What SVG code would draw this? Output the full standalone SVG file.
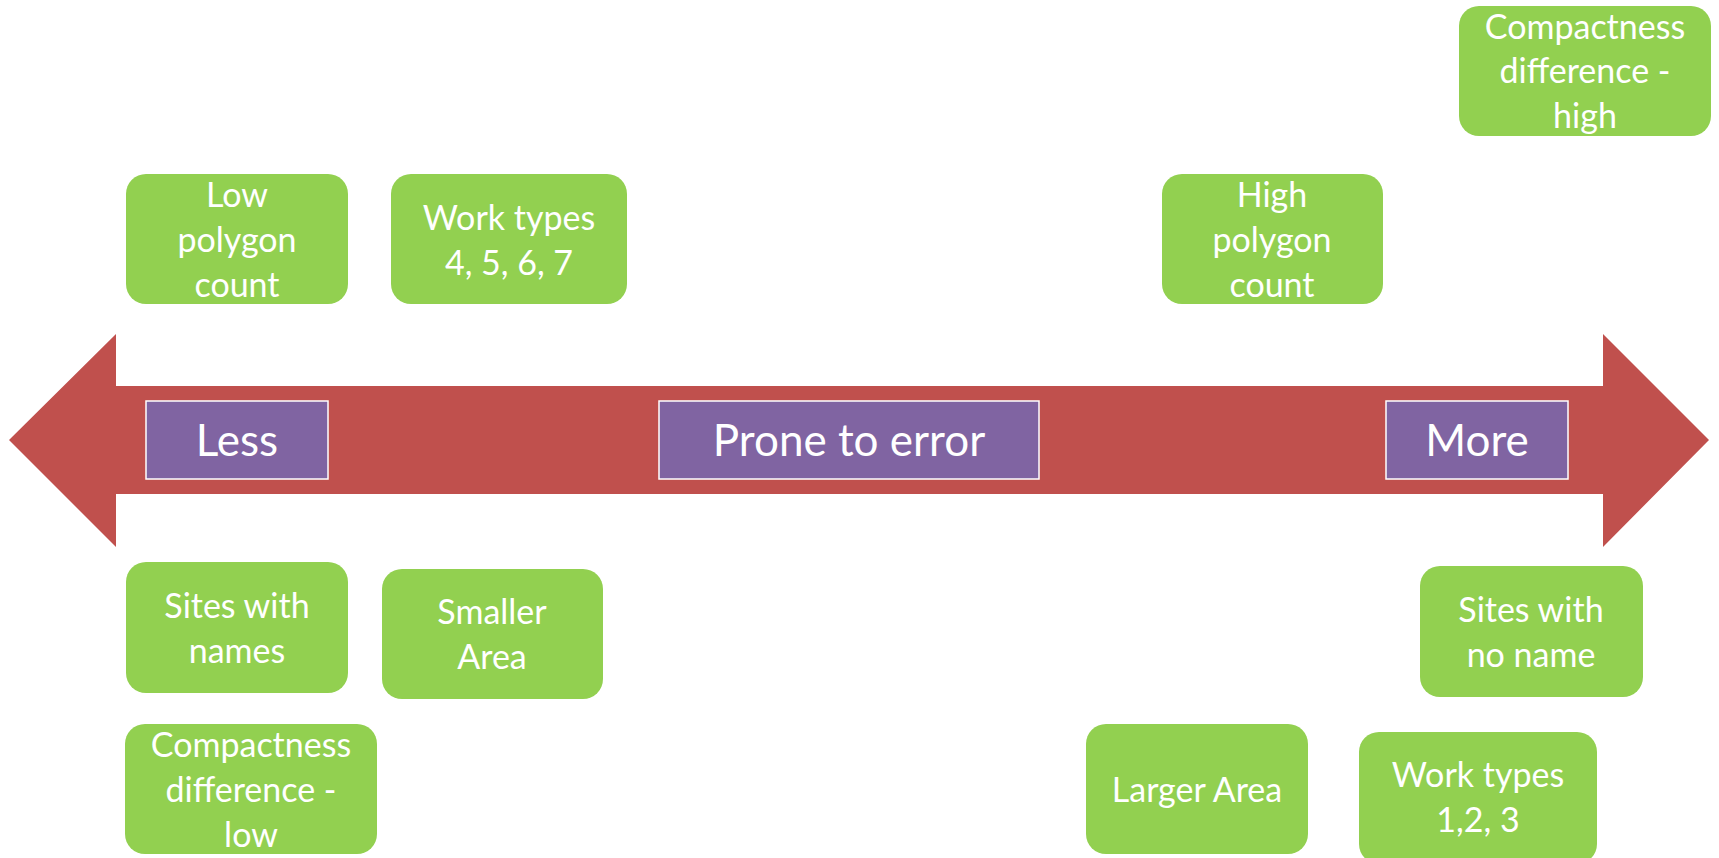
<svg xmlns="http://www.w3.org/2000/svg" width="1719" height="858" viewBox="0 0 1719 858">
  <style>
    .card { fill: #92D050; }
    .tag { fill: #8064A2; stroke: #FFFFFF; stroke-width: 1.5; }
    .ct { font-family: Lato, "Liberation Sans", sans-serif; font-size: 34px; fill: #FFFFFF; text-anchor: middle; }
    .tt { font-family: Lato, "Liberation Sans", sans-serif; font-size: 44px; fill: #FFFFFF; text-anchor: middle; }
  </style>
  <rect width="1719" height="858" fill="#FFFFFF"/>

  <!-- double-headed scale arrow -->
  <g id="scale-arrow">
    <path d="M9,440 L116,334 L116,386 L1603,386 L1603,334 L1709,440 L1603,547 L1603,494 L116,494 L116,547 Z" fill="#C0504D"/>
  </g>

  <!-- labels on the arrow -->
  <g id="label-less">
    <rect class="tag" x="146" y="401" width="182" height="78"/>
    <text class="tt" x="237" y="456">Less</text>
  </g>
  <g id="label-prone">
    <rect class="tag" x="659" y="401" width="380" height="78"/>
    <text class="tt" x="849" y="456">Prone to error</text>
  </g>
  <g id="label-more">
    <rect class="tag" x="1386" y="401" width="182" height="78"/>
    <text class="tt" x="1477" y="456">More</text>
  </g>

  <!-- factor cards -->
  <g id="low-polygon">
    <rect class="card" x="126" y="174" width="222" height="130" rx="20"/>
    <text class="ct" x="237" y="207">Low</text>
    <text class="ct" x="237" y="252">polygon</text>
    <text class="ct" x="237" y="297">count</text>
  </g>
  <g id="work-types-4567">
    <rect class="card" x="391" y="174" width="236" height="130" rx="20"/>
    <text class="ct" x="509" y="230">Work types</text>
    <text class="ct" x="509" y="275">4, 5, 6, 7</text>
  </g>
  <g id="high-polygon">
    <rect class="card" x="1162" y="174" width="221" height="130" rx="20"/>
    <text class="ct" x="1272" y="207">High</text>
    <text class="ct" x="1272" y="252">polygon</text>
    <text class="ct" x="1272" y="297">count</text>
  </g>
  <g id="compactness-high">
    <rect class="card" x="1459" y="6" width="252" height="130" rx="20"/>
    <text class="ct" x="1585" y="39">Compactness</text>
    <text class="ct" x="1585" y="83">difference -</text>
    <text class="ct" x="1585" y="128">high</text>
  </g>
  <g id="sites-names">
    <rect class="card" x="126" y="562" width="222" height="131" rx="20"/>
    <text class="ct" x="237" y="618">Sites with</text>
    <text class="ct" x="237" y="663">names</text>
  </g>
  <g id="smaller-area">
    <rect class="card" x="382" y="569" width="221" height="130" rx="20"/>
    <text class="ct" x="492" y="624">Smaller</text>
    <text class="ct" x="492" y="669">Area</text>
  </g>
  <g id="compactness-low">
    <rect class="card" x="125" y="724" width="252" height="130" rx="20"/>
    <text class="ct" x="251" y="757">Compactness</text>
    <text class="ct" x="251" y="802">difference -</text>
    <text class="ct" x="251" y="847">low</text>
  </g>
  <g id="sites-no-name">
    <rect class="card" x="1420" y="566" width="223" height="131" rx="20"/>
    <text class="ct" x="1531" y="622">Sites with</text>
    <text class="ct" x="1531" y="667">no name</text>
  </g>
  <g id="larger-area">
    <rect class="card" x="1086" y="724" width="222" height="130" rx="20"/>
    <text class="ct" x="1197" y="802">Larger Area</text>
  </g>
  <g id="work-types-123">
    <rect class="card" x="1359" y="732" width="238" height="132" rx="20"/>
    <text class="ct" x="1478" y="787">Work types</text>
    <text class="ct" x="1478" y="832">1,2, 3</text>
  </g>
</svg>
